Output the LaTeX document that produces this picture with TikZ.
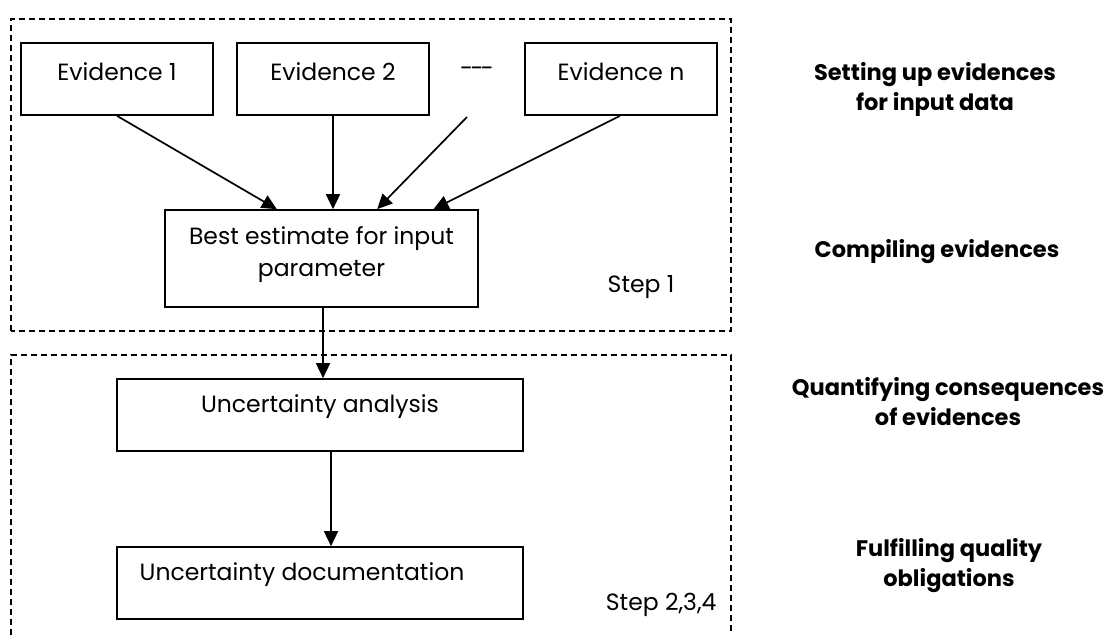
\documentclass[tikz,border=0pt]{standalone}
\usepackage{fontspec}
\setmainfont{Poppins}
\usetikzlibrary{arrows.meta,calc}
\begin{document}
\begin{tikzpicture}[x=1pt,y=-1pt,
  box/.style={draw,line width=1.7pt,rectangle,inner sep=0pt},
  grp/.style={draw,line width=1.4pt,dash pattern=on 6pt off 4pt},
  conn/.style={line width=1.7pt,-{Triangle[length=15pt,width=14pt]}},
  txt/.style={font=\fontsize{23.5}{32}\selectfont},
  side/.style={font=\fontsize{22.5}{30}\selectfont\bfseries,align=center}]
\useasboundingbox (0,0) rectangle (1112,635);
% groups
\draw[grp] (11,331) -- (11,19) -- (731,19) -- (731,331) -- cycle;
\draw[grp] (11,635) -- (11,355) -- (731,355) -- (731,635);
% evidence boxes
\node[box,minimum width=192pt,minimum height=72pt,label={[txt,yshift=7pt]center:Evidence 1}] (e1) at (117,79) {};
\node[box,minimum width=192pt,minimum height=72pt,label={[txt,yshift=7pt]center:Evidence 2}] (e2) at (333,79) {};
\node[txt] (dots) at (477,72) {-\kern-2.5pt-\kern-2.5pt-};
\coordinate (dotsend) at (467,117);
\node[box,minimum width=192pt,minimum height=72pt,label={[txt,yshift=7pt]center:Evidence n}] (en) at (621,79) {};
\node[box,minimum width=313pt,minimum height=97pt,label={[txt,align=center,yshift=4pt]center:Best estimate for input\\parameter}] (best) at (321.5,258.5) {};
\node[txt] (s1) at (641,287) {Step 1};
\node[box,minimum width=406pt,minimum height=72pt,label={[txt,yshift=8pt]center:Uncertainty analysis}] (ana) at (320,415) {};
\node[box,minimum width=406pt,minimum height=72pt] (doc) at (320,583) {};
\node[txt,anchor=west] (doct) at ($(doc.west)+(20,-8)$) {Uncertainty documentation};
\node[txt,anchor=east] (s2) at (720,605) {Step 2,3,4};
% side labels
\node[side] (l1) at (935,89) {Setting up evidences\\for input data};
\node[side] (l2) at (937,252) {Compiling evidences};
\node[side] (l3) at (948,402) {Quantifying consequences\\of evidences};
\node[side] (l4) at (949,566) {Fulfilling quality\\obligations};
% connectors
\coordinate (bs) at ($(best.south)+(1.5,0)$);
\coordinate (as) at ($(ana.south)+(11,0)$);
\coordinate (ens) at ($(en.south)-(1,0)$);
\draw[conn] (e1.south) -- ($(best.north west)!0.358!(best.north east)$);
\draw[conn] (e2.south) -- (e2.south |- best.north);
\draw[conn] (dotsend) -- ($(best.north west)!0.677!(best.north east)$);
\draw[conn] (ens) -- ($(best.north west)!0.856!(best.north east)$);
\draw[conn] (bs) -- (bs |- ana.north);
\draw[conn] (as) -- (as |- doc.north);
\end{tikzpicture}
\end{document}
